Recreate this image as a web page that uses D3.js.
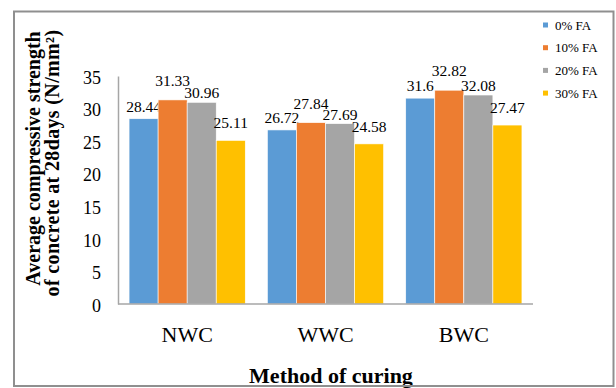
<!DOCTYPE html>
<html>
<head>
<meta charset="utf-8">
<script src="https://cdn.jsdelivr.net/npm/d3@7"></script>
<style>
  html, body { margin: 0; padding: 0; background: #fff; }
  svg { display: block; }
  svg text { font-family: "Liberation Serif", "Times New Roman", serif !important; fill: #000; }
</style>
</head>
<body>
<svg id="chart" width="616" height="388"></svg>
<script>
// ---- data ----
const categories = ["NWC", "WWC", "BWC"];
const seriesNames = ["0% FA", "10% FA", "20% FA", "30% FA"];
const fa0  = [28.44, 26.72, 31.6];
const fa10 = [31.33, 27.84, 32.82];
const fa20 = [30.96, 27.69, 32.08];
const fa30 = [25.11, 24.58, 27.47];
const yTicks = [0, 5, 10, 15, 20, 25, 30, 35];
const yTitleLines = ["Average compressive strength", "of concrete at 28days (N/mm²)"];
const xTitle = "Method of curing";

const seriesValues = [fa0, fa10, fa20, fa30];
const colors = ["#5b9bd5", "#ed7d31", "#a5a5a5", "#ffc000"];
const labelGap = [7, 14, 4, 12];
const SERIF = '"Liberation Serif", "Times New Roman", serif';

const svg = d3.select("#chart");

const plot = { left: 118, right: 533, top: 76, bottom: 304 };

const x0 = d3.scaleBand().domain(categories)
  .range([plot.left, plot.right]).paddingInner(0.16).paddingOuter(0.08);
const x1 = d3.scaleBand().domain(seriesNames).range([0, x0.bandwidth()]);
const y = d3.scaleLinear().domain([0, 35]).range([plot.bottom, plot.top]);

// bars
const groups = svg.append("g").selectAll("g")
  .data(categories).join("g")
  .attr("transform", d => `translate(${x0(d)},0)`);

groups.each(function(cat, ci) {
  const g = d3.select(this);
  seriesNames.forEach((s, si) => {
    const v = seriesValues[si][ci];
    g.append("rect")
      .attr("x", x1(s))
      .attr("y", y(v))
      .attr("width", x1.bandwidth())
      .attr("height", y(0) - y(v))
      .attr("fill", colors[si])
      .attr("stroke", "#ffffff")
      .attr("stroke-width", 0.6);
    g.append("text")
      .attr("x", x1(s) + x1.bandwidth() / 2)
      .attr("y", y(v) - labelGap[si])
      .attr("text-anchor", "middle")
      .style("font-family", SERIF)
      .style("font-size", "15.5px")
      .text(String(v));
  });
});

// y axis
const yAxis = d3.axisLeft(y).tickValues(yTicks).tickSize(0).tickPadding(17);
const yg = svg.append("g").attr("transform", `translate(${plot.left},0)`).call(yAxis)
  .attr("font-family", null).attr("font-size", null);
yg.select(".domain").attr("stroke", "#a6a6a6").attr("stroke-width", 1.5);
yg.selectAll("text")
  .style("font-family", SERIF)
  .style("font-size", "18px")
  .attr("dy", "0.4em")
  .attr("fill", "#000");

// x axis
const xAxis = d3.axisBottom(x0).tickSize(0).tickPadding(0);
const xg = svg.append("g").attr("transform", `translate(0,${plot.bottom})`).call(xAxis)
  .attr("font-family", null).attr("font-size", null);
xg.select(".domain").attr("stroke", "#a6a6a6").attr("stroke-width", 1.5)
  .attr("d", `M${plot.left},0H${plot.right}`);
xg.selectAll("text")
  .style("font-family", SERIF)
  .style("font-size", "22px")
  .attr("y", 37.5)
  .attr("dy", 0)
  .attr("fill", "#000");

// axis titles
svg.append("text")
  .attr("x", 331).attr("y", 382.5)
  .attr("text-anchor", "middle")
  .style("font-family", SERIF)
  .style("font-size", "22px").style("font-weight", "bold")
  .text(xTitle);

const yTitleX = [39.5, 58.5];
const yTitleC = [158.5, 163];
const yTitleSpacing = [0, 0.35];
yTitleLines.forEach((line, i) => {
  svg.append("text")
    .attr("transform", `translate(${yTitleX[i]},${yTitleC[i]}) rotate(-90)`)
    .attr("text-anchor", "middle")
    .style("font-family", SERIF)
    .style("font-size", "20px").style("font-weight", "bold")
    .style("letter-spacing", yTitleSpacing[i] + "px")
    .text(line);
});

// legend
const legend = svg.append("g").attr("transform", "translate(543,25)");
seriesNames.forEach((s, i) => {
  const row = legend.append("g").attr("transform", `translate(0,${i * 22.7})`);
  row.append("rect").attr("x", 0).attr("y", -2.5).attr("width", 5).attr("height", 5).attr("fill", colors[i]);
  row.append("text").attr("x", 12).attr("y", 4.7)
    .style("font-family", SERIF).style("font-size", "13px").text(s);
});

// outer border
svg.append("rect")
  .attr("x", 14).attr("y", 11.5).attr("width", 599.5).attr("height", 374.5)
  .attr("fill", "none").attr("stroke", "#8f8f8f").attr("stroke-width", 2);
</script>
</body>
</html>
